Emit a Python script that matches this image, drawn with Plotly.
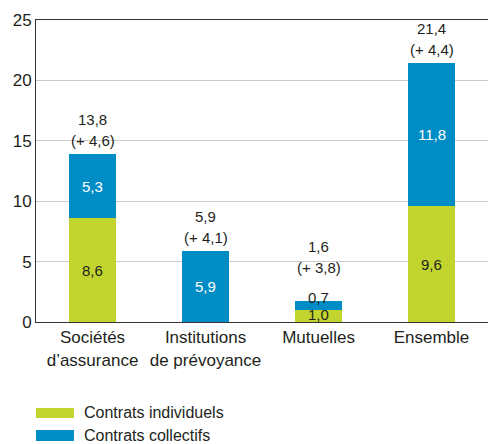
import plotly.graph_objects as go

categories = ["Sociétés<br>d’assurance", "Institutions<br>de prévoyance", "Mutuelles", "Ensemble"]
individuels = [8.6, 0.0, 1.0, 9.6]
collectifs = [5.3, 5.9, 0.7, 11.8]
totals = [13.8, 5.9, 1.6, 21.4]
evolutions = ["(+ 4,6)", "(+ 4,1)", "(+ 3,8)", "(+ 4,4)"]
series_names = ["Contrats individuels", "Contrats collectifs"]
y_ticks = [0, 5, 10, 15, 20, 25]

GREEN = "#c2d52e"
BLUE = "#008cc5"
FONT = "Liberation Sans Narrow, Arial Narrow, sans-serif"
DARK = "#231f20"


def fr(v):
    return f"{v:.1f}".replace(".", ",")


fig = go.Figure()
fig.add_trace(go.Bar(x=categories, y=individuels, name=series_names[0],
                     marker=dict(color=GREEN, line=dict(width=0)), showlegend=False))
fig.add_trace(go.Bar(x=categories, y=collectifs, name=series_names[1],
                     marker=dict(color=BLUE, line=dict(width=0)), showlegend=False))

annotations = []
for i, cat in enumerate(categories):
    ind, col = individuels[i], collectifs[i]
    small = (ind + col) < 3
    # segment values
    if ind > 0:
        annotations.append(dict(x=cat, y=ind / 2, text=fr(ind), showarrow=False,
                                font=dict(family=FONT, size=15, color=DARK),
                                yshift=1 if small else 0))
    if col > 0:
        annotations.append(dict(x=cat, y=ind + col / 2, text=fr(col), showarrow=False,
                                font=dict(family=FONT, size=15, color=DARK if small else "white"),
                                yshift=8 if small else 0))
    # totals above the bars (lifted further over the thin bar)
    top = ind + col
    lift = 20 if small else 0
    annotations.append(dict(x=cat, y=top, text=evolutions[i], showarrow=False,
                            yanchor="bottom", yshift=3 + lift,
                            font=dict(family=FONT, size=15, color=DARK)))
    annotations.append(dict(x=cat, y=top, text=fr(totals[i]), showarrow=False,
                            yanchor="bottom", yshift=24 + lift,
                            font=dict(family=FONT, size=15, color=DARK)))

# legend drawn as wide swatches
shapes = []
legend_rows = [(-0.285, -0.318, -0.301, GREEN), (-0.358, -0.394, -0.377, BLUE)]
for name, (y0, y1, yt, colr) in zip(series_names, legend_rows):
    shapes.append(dict(type="rect", xref="paper", yref="paper", x0=0.0, x1=0.084,
                       y0=y1, y1=y0, fillcolor=colr, line=dict(width=0)))
    annotations.append(dict(xref="paper", yref="paper", x=0.102, y=yt, text=name,
                            showarrow=False, xanchor="left", yanchor="middle",
                            font=dict(family=FONT, size=16, color=DARK)))

fig.update_layout(
    barmode="stack",
    bargap=0.59,
    width=488, height=444,
    margin=dict(l=36, r=0, t=20, b=122),
    paper_bgcolor="white", plot_bgcolor="white",
    font=dict(family=FONT, color=DARK),
    annotations=annotations,
    shapes=shapes,
)
fig.update_xaxes(showline=True, linecolor="#333", linewidth=1, mirror=True,
                 ticks="", tickfont=dict(family=FONT, size=17, color=DARK))
fig.update_yaxes(range=[0, 25], tickvals=y_ticks, showgrid=True, gridcolor="#cccccc",
                 gridwidth=1, showline=True, linecolor="#333", linewidth=1, mirror=True,
                 ticks="", tickfont=dict(family=FONT, size=17, color=DARK), zeroline=False)

fig.write_html("out.html")
